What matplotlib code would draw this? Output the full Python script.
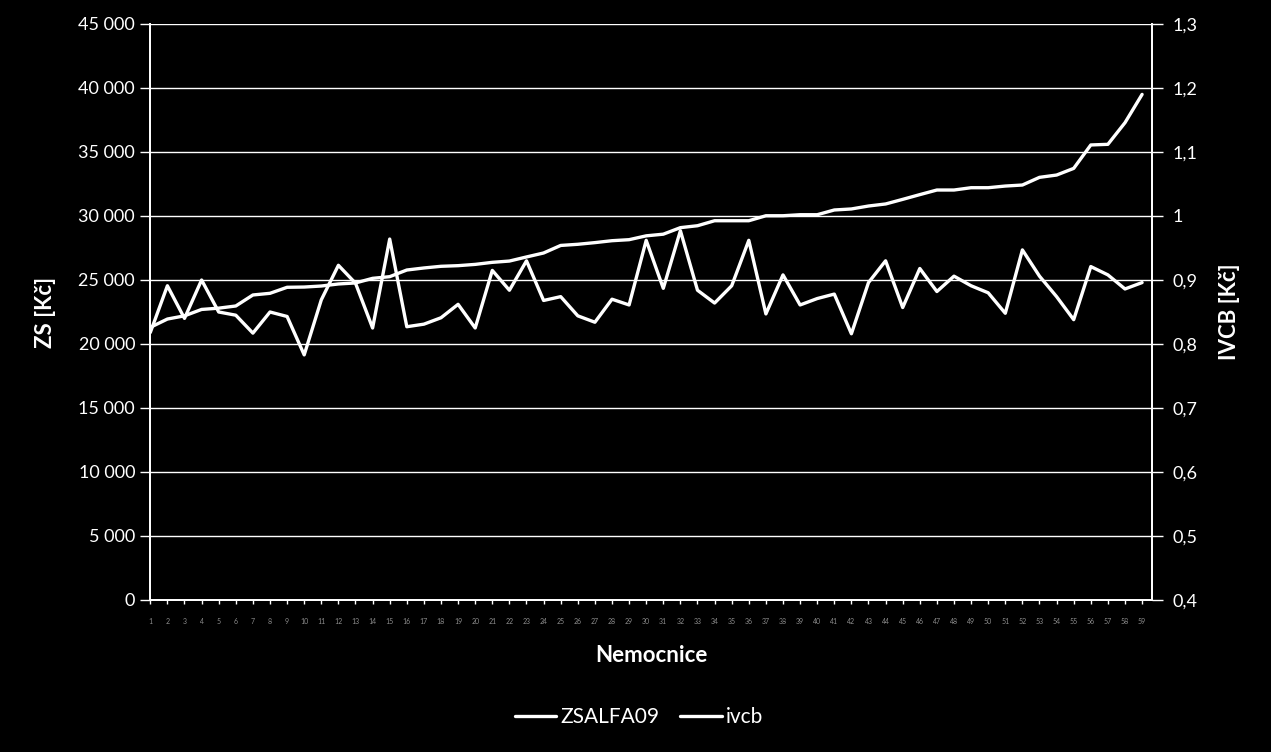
import matplotlib
matplotlib.use("Agg")
import matplotlib.pyplot as plt
from matplotlib.ticker import FuncFormatter, FixedLocator

plt.rcParams['font.family'] = ['Lato', 'DejaVu Sans']

categories = list(range(1, 60))
zsalfa09 = [21300, 21950, 22200, 22700, 22800, 22970, 23830, 23960, 24430, 24450,
            24530, 24690, 24770, 25130, 25260, 25780, 25940, 26070, 26120, 26220,
            26380, 26480, 26800, 27110, 27700, 27790, 27920, 28070, 28150, 28450,
            28580, 29090, 29240, 29630, 29630, 29630, 30020, 30020, 30100, 30100,
            30470, 30550, 30780, 30940, 31300, 31670, 32030, 32030, 32210, 32210,
            32340, 32420, 33020, 33200, 33720, 35550, 35600, 37290, 39500]
ivcb = [0.818, 0.891, 0.840, 0.900, 0.850, 0.845, 0.817, 0.850, 0.843, 0.783,
        0.869, 0.923, 0.895, 0.825, 0.964, 0.827, 0.831, 0.841, 0.862, 0.825,
        0.915, 0.884, 0.930, 0.868, 0.874, 0.844, 0.834, 0.870, 0.861, 0.962,
        0.887, 0.977, 0.884, 0.864, 0.891, 0.962, 0.847, 0.908, 0.861, 0.871,
        0.878, 0.816, 0.896, 0.930, 0.857, 0.918, 0.882, 0.906, 0.891, 0.880,
        0.848, 0.947, 0.906, 0.874, 0.838, 0.921, 0.908, 0.886, 0.896]
left_ticks = [0, 5000, 10000, 15000, 20000, 25000, 30000, 35000, 40000, 45000]
right_ticks = [0.4, 0.5, 0.6, 0.7, 0.8, 0.9, 1.0, 1.1, 1.2, 1.3]

W, H = 1271, 752
fig = plt.figure(figsize=(W / 100, H / 100), dpi=100, facecolor='black')
ax = fig.add_axes([150.3 / W, 1 - 600 / H, (1151.5 - 150.3) / W, 576 / H])
ax.set_facecolor('black')
ax2 = ax.twinx()

l1, = ax.plot(categories, zsalfa09, color='white', lw=2.4, label='ZSALFA09',
              solid_joinstyle='round', solid_capstyle='round', zorder=3)
l2, = ax2.plot(categories, ivcb, color='white', lw=2.4, label='ivcb',
               solid_joinstyle='round', solid_capstyle='round', zorder=3)

ax.set_xlim(1, 59.55)
ax.set_ylim(0, 45000)
ax2.set_ylim(0.4, 1.3)

ax.yaxis.set_major_locator(FixedLocator(left_ticks))
ax2.yaxis.set_major_locator(FixedLocator(right_ticks))
ax.yaxis.set_major_formatter(FuncFormatter(lambda v, p: f"{int(round(v)):,}".replace(",", " ")))
def rfmt(v, p):
    s = f"{v:.1f}"
    if s.endswith(".0"):
        s = s[:-2]
    return s.replace(".", ",")
ax2.yaxis.set_major_formatter(FuncFormatter(rfmt))

ax.set_xticks(categories)
ax.set_xticklabels([str(c) for c in categories])
ax.tick_params(axis='x', colors='white', length=3, width=1, pad=10, labelsize=5,
               labelcolor='#8c8c8c')
ax.tick_params(axis='y', colors='white', length=7, width=1, pad=4, labelsize=13)
ax2.tick_params(axis='y', colors='white', length=8, width=1, pad=7, labelsize=13)

ax.grid(axis='y', color='white', lw=1)
ax.set_axisbelow(True)

for a in (ax, ax2):
    a.spines['top'].set_visible(False)
    for s in ('left', 'right', 'bottom'):
        a.spines[s].set_color('white')
        a.spines[s].set_linewidth(1.3)

fig.text(45 / W, 1 - 312 / H, 'ZS [Kč]', rotation=90, color='white', fontsize=16,
         fontweight='bold', ha='center', va='center')
fig.text(1230 / W, 1 - 312 / H, 'IVCB [Kč]', rotation=90, color='white', fontsize=16,
         fontweight='bold', ha='center', va='center')
fig.text(651.7 / W, 1 - 655 / H, 'Nemocnice', color='white', fontsize=16,
         fontweight='bold', ha='center', va='center')

leg = fig.legend(handles=[l1, l2], loc='center', bbox_to_anchor=(639 / W, 1 - 717 / H),
                 ncol=2, frameon=False, fontsize=15, handlelength=2.0,
                 handletextpad=0.2, columnspacing=1.0)
for t in leg.get_texts():
    t.set_color('white')

fig.savefig('out.png', dpi=100, facecolor='black')
